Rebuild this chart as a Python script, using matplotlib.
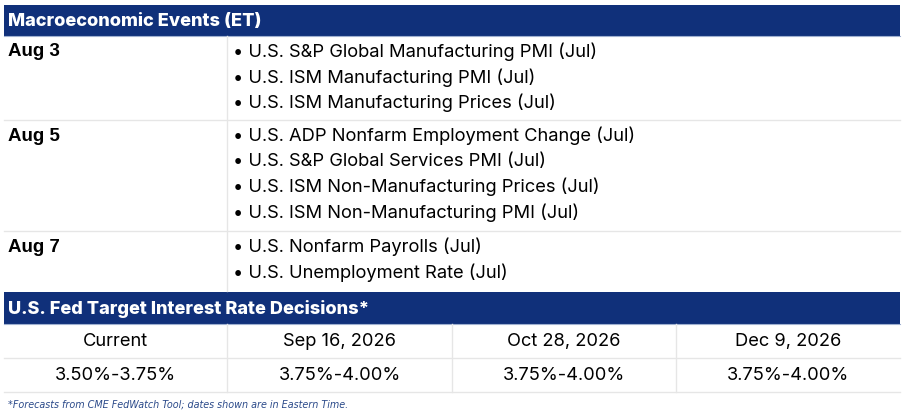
import matplotlib.pyplot as plt
from matplotlib.patches import Rectangle

# data
title_events = 'Macroeconomic Events (ET)'
event_dates = ['Aug 3', 'Aug 5', 'Aug 7']
event_items = [
    ['U.S. S&P Global Manufacturing PMI (Jul)',
     'U.S. ISM Manufacturing PMI (Jul)',
     'U.S. ISM Manufacturing Prices (Jul)'],
    ['U.S. ADP Nonfarm Employment Change (Jul)',
     'U.S. S&P Global Services PMI (Jul)',
     'U.S. ISM Non-Manufacturing Prices (Jul)',
     'U.S. ISM Non-Manufacturing PMI (Jul)'],
    ['U.S. Nonfarm Payrolls (Jul)',
     'U.S. Unemployment Rate (Jul)'],
]
title_fed = 'U.S. Fed Target Interest Rate Decisions*'
fed_dates = ['Current', 'Sep 16, 2026', 'Oct 28, 2026', 'Dec 9, 2026']
fed_rates = ['3.50%-3.75%', '3.75%-4.00%', '3.75%-4.00%', '3.75%-4.00%']
footnote = '*Forecasts from CME FedWatch Tool; dates shown are in Eastern Time.'

NAVY = '#10307a'
GRID = '#e6e6e6'
W, H = 905, 415
L, R = 4, 900
COL1 = 227
LINE_H = 25.5
FS = 13.2

fig = plt.figure(figsize=(W / 100, H / 100), dpi=100)
ax = fig.add_axes([0, 0, 1, 1])
ax.set_xlim(0, W)
ax.set_ylim(H, 0)
ax.axis('off')

def header(y0, y1, text):
    ax.add_patch(Rectangle((L, y0), R - L, y1 - y0, color=NAVY, lw=0))
    ax.plot([L, R], [y1, y1], color='#9fb0d0', lw=0.8)
    ax.text(L + 4, (y0 + y1) / 2 + 1, text, color='white', fontsize=13.1,
            fontweight='heavy', family='Inter', va='center')

# events table
header(5, 36, title_events)
row_tops = [36, 120, 231]
row_bots = [120, 231, 291]
for i, d in enumerate(event_dates):
    y0 = row_tops[i]
    ax.text(L + 4, y0 + 16, d, fontsize=13.5, fontweight='bold',
            family='Liberation Sans', va='center')
    for j, item in enumerate(event_items[i]):
        ax.text(COL1 + 6, y0 + 16 + j * LINE_H, '\u2022 ' + item,
                fontsize=FS, family='Inter', va='center')
    if i < len(event_dates) - 1:
        ax.plot([L, R], [row_bots[i], row_bots[i]], color=GRID, lw=1)
ax.plot([COL1, COL1], [36, 291], color=GRID, lw=1)

# fed table
header(292, 324, title_fed)
col_edges = [L, 227, 452, 676, R]
for k in range(len(fed_dates)):
    cx = (col_edges[k] + col_edges[k + 1]) / 2
    ax.text(cx, 341, fed_dates[k], fontsize=FS, family='Inter',
            ha='center', va='center')
    ax.text(cx, 375, fed_rates[k], fontsize=FS, family='Inter',
            ha='center', va='center')
for x in col_edges[1:-1]:
    ax.plot([x, x], [324, 392], color=GRID, lw=1)
ax.plot([L, R], [358, 358], color=GRID, lw=1)
ax.plot([L, R], [392, 392], color=GRID, lw=1)

ax.text(L + 4, 405, footnote, fontsize=6.9, style='italic',
        family='DejaVu Sans', color='#2b4a8a', va='center')

fig.savefig('out.png', dpi=100)
